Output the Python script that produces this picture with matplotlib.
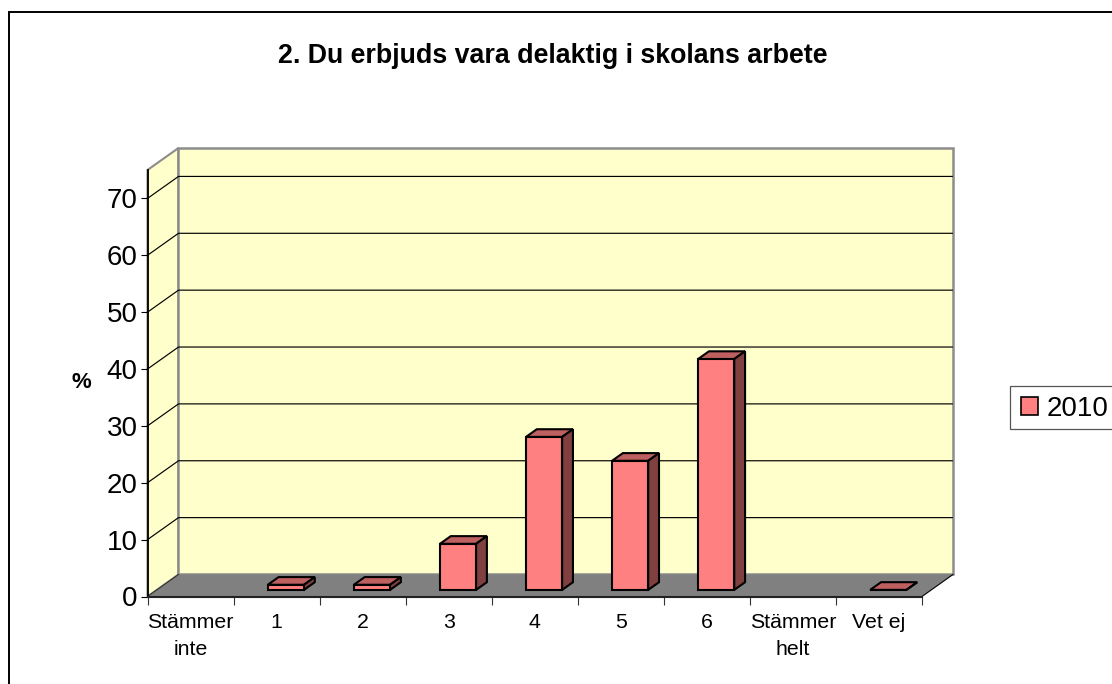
import matplotlib
matplotlib.use("Agg")
import matplotlib.pyplot as plt
from matplotlib.patches import Polygon, Patch, Rectangle
import numpy as np

plt.rcParams["font.family"] = ["Liberation Sans", "DejaVu Sans"]

TITLE = "2. Du erbjuds vara delaktig i skolans arbete"
CATEGORIES = ["Stämmer\ninte", "1", "2", "3", "4", "5", "6", "Stämmer\nhelt", "Vet ej"]
VALUES_2010 = [np.nan, 0.9, 0.9, 8.1, 26.9, 22.7, 40.6, np.nan, 0.0]
Y_TICKS = [0, 10, 20, 30, 40, 50, 60, 70]
SERIES = "2010"

W, H = 1112, 684
Y_TOP = 75
# depth of the fake 3d box, in data units
DX = 0.36
DY = 3.87
BAR_W = 0.42
BAR_FRONT = 0.3
BAR_BACK = 0.65

WALL = "#FFFFCC"
FLOOR = "#808080"
EDGE = "#8C8C8C"
FACE = "#FF8080"
TOP = "#BF6060"
SIDE = "#804040"

fig = plt.figure(figsize=(W / 100, H / 100), dpi=100)
fig.patch.set_facecolor("white")
ax = fig.add_axes([147.5 / W, 1 - 596.5 / H, (922 - 147.5) / W, (596.5 - 170) / H])
ax.set_xlim(0, len(CATEGORIES))
ax.set_ylim(0, Y_TOP)
ax.patch.set_visible(False)

# outer frame, runs off the right and bottom edge
fig.add_artist(Rectangle((9 / W, -0.1), 1.2, 1.1 - 12 / H, transform=fig.transFigure,
                         fill=False, edgecolor="black", linewidth=1.4))

n = len(CATEGORIES)

# walls and floor
ax.add_patch(Polygon([(0, 0), (DX, DY), (DX, Y_TOP + DY), (0, Y_TOP)], closed=True, facecolor=WALL,
                     edgecolor=EDGE, linewidth=1.5, zorder=1, clip_on=False))
ax.add_patch(Polygon([(DX, DY), (n + DX, DY), (n + DX, Y_TOP + DY), (DX, Y_TOP + DY)], closed=True,
                     facecolor=WALL, edgecolor=EDGE, linewidth=1.8, zorder=1, clip_on=False))
ax.add_patch(Polygon([(0, 0), (n, 0), (n + DX, DY), (DX, DY)], closed=True, facecolor=FLOOR,
                     edgecolor="none", zorder=2, clip_on=False))
ax.plot([0, DX], [0, DY], color="#333333", lw=0.8, zorder=2, clip_on=False)
ax.plot([n, n + DX], [0, DY], color="black", lw=0.8, zorder=2, clip_on=False)

# gridlines go along the side wall then the back wall
for t in Y_TICKS[1:]:
    ax.plot([0, DX, n + DX - 0.008], [t, t + DY, t + DY], color="black", lw=0.85, zorder=3, clip_on=False)

# bars
x = np.arange(n) + 0.5 + BAR_FRONT * DX
base = BAR_FRONT * DY
ax.bar(x, VALUES_2010, width=BAR_W, bottom=base, color=FACE, edgecolor="black", linewidth=1.5, zorder=5)
off_x = (BAR_BACK - BAR_FRONT) * DX
off_y = (BAR_BACK - BAR_FRONT) * DY
for xi, v in zip(x, VALUES_2010):
    if np.isnan(v):
        continue
    l, r = xi - BAR_W / 2, xi + BAR_W / 2
    b, t = base, base + v
    ax.add_patch(Polygon([(l, t), (r, t), (r + off_x, t + off_y), (l + off_x, t + off_y)], closed=True,
                         facecolor=TOP, edgecolor="black", linewidth=1.5, zorder=4))
    ax.add_patch(Polygon([(r, b), (r + off_x, b + off_y), (r + off_x, t + off_y), (r, t)], closed=True,
                         facecolor=SIDE, edgecolor="black", linewidth=1.5, zorder=4))

# axes
for s in ["top", "right"]:
    ax.spines[s].set_visible(False)
ax.spines["left"].set_linewidth(1.3)
ax.spines["bottom"].set_linewidth(1.5)
ax.spines["bottom"].set_color("#222222")
ax.spines["left"].set_zorder(6)
ax.spines["bottom"].set_zorder(6)

ax.set_yticks(Y_TICKS)
ax.set_yticklabels([str(t) for t in Y_TICKS], fontsize=20)
ax.tick_params(axis="y", length=5, width=0.8, pad=2, color="black")
ax.set_xticks(np.arange(n + 1))
ax.set_xticklabels([])
ax.tick_params(axis="x", which="major", length=6, width=0.8, color="#333333")
ax.set_xticks(np.arange(n) + 0.5, minor=True)
ax.set_xticklabels(CATEGORIES, minor=True, fontsize=15.3, linespacing=1.55)
ax.tick_params(axis="x", which="minor", length=0, pad=12)

fig.text(553 / W, 1 - 56 / H, TITLE, fontsize=19.3, fontweight="bold", ha="center", va="center")
fig.text(81.5 / W, 1 - 382 / H, "%", fontsize=16, fontweight="bold", ha="center", va="center")

# legend box is drawn apart so the swatch and text can sit where they should
fig.add_artist(Rectangle((1010 / W, 1 - 429 / H), 0.2, 43 / H, transform=fig.transFigure,
                         facecolor="white", edgecolor="#555555", linewidth=0.9))
leg = fig.legend(handles=[Patch(facecolor=FACE, edgecolor="black", linewidth=1.2, label=SERIES)],
                 loc="center left", bbox_to_anchor=(1020.5 / W, 1 - 408.5 / H), bbox_transform=fig.transFigure,
                 fontsize=20, frameon=False, borderaxespad=0, borderpad=0,
                 handlelength=0.62, handleheight=0.6, handletextpad=0.32)

plt.savefig("out.png", dpi=100)
plt.close()
